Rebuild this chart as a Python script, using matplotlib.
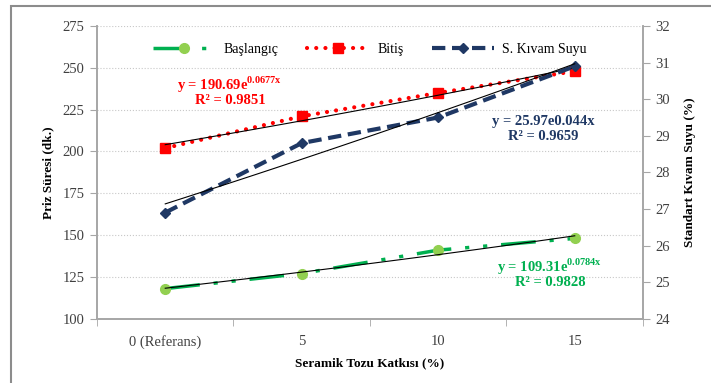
import matplotlib.pyplot as plt
import numpy as np
from matplotlib.patches import Rectangle

plt.rcParams['font.family'] = ['Liberation Serif', 'DejaVu Serif']
plt.rcParams['mathtext.fontset'] = 'custom'
plt.rcParams['mathtext.rm'] = 'Liberation Serif:bold'
plt.rcParams['mathtext.bf'] = 'Liberation Serif:bold'

categories = ['0 (Referans)', '5', '10', '15']
baslangic = [118, 127, 141, 148]
bitis = [202, 221, 235, 248]
kivam = [26.9, 28.8, 29.5, 30.9]

# exponential trend coefficients (a, b) for y = a*e^(b*x), x = 1..4
fit_baslangic = (109.31, 0.0784)
fit_bitis = (190.69, 0.0677)
fit_kivam = (25.97, 0.044)

green = '#00B050'
lightgreen = '#92D050'
red = '#FF0000'
navy = '#1F3864'
gray = '#A6A6A6'

fig = plt.figure(figsize=(7.11, 3.83), dpi=100)
fig.add_artist(Rectangle((11 / 711, -0.1), 1.0, 1 - 6 / 383 + 0.1, transform=fig.transFigure,
                         fill=False, edgecolor='#8C8C8C', linewidth=1.5))

ax = fig.add_axes([97 / 711, 1 - 318.7 / 383, (643 - 97) / 711, (318.7 - 26) / 383])
ax2 = ax.twinx()

x = np.arange(len(categories))
xf = np.linspace(0, 3, 50)

ax.plot(xf, fit_baslangic[0] * np.exp(fit_baslangic[1] * (xf + 1)), color='black', lw=0.8, zorder=4)
ax.plot(xf, fit_bitis[0] * np.exp(fit_bitis[1] * (xf + 1)), color='black', lw=0.8, zorder=4)
ax2.plot(xf, fit_kivam[0] * np.exp(fit_kivam[1] * (xf + 1)), color='black', lw=0.8, zorder=4)

l1, = ax.plot(x, baslangic, color=green, lw=2.5, dashes=(10, 4, 1.2, 4, 1.2, 4),
              marker='o', ms=7, mfc=lightgreen, mec=lightgreen, label='Başlangıç', zorder=3)
l2, = ax.plot(x, bitis, color=red, lw=3, dashes=(0.01, 2.2), dash_capstyle='round',
              marker='s', ms=7, mfc=red, mec=red, label='Bitiş', zorder=3)
l3, = ax2.plot(x, kivam, color=navy, lw=3, dashes=(3.2, 1.6),
               marker='D', ms=5, mfc=navy, mec=navy, label='S. Kıvam Suyu', zorder=3)

ax.set_xlim(-0.5, 3.5)
ax.set_ylim(100, 275)
ax.set_yticks(np.arange(100, 276, 25))
ax2.set_ylim(24, 32)
ax2.set_yticks(np.arange(24, 33, 1))

ax.set_xticks(x)
ax.set_xticklabels(categories)
ax.set_xticks(np.arange(-0.5, 3.6, 1), minor=True)
ax.tick_params(axis='x', which='major', length=0, pad=12, labelsize=10.5, colors='#404040')
ax.tick_params(axis='x', which='minor', length=5, color=gray, direction='out')
ax.tick_params(axis='x', which='minor', labelbottom=False)
ax.tick_params(axis='y', length=5, color=gray, labelsize=10.5, labelcolor='#404040', pad=4)
ax2.tick_params(axis='y', length=5, color=gray, labelsize=10.5, labelcolor='#404040', pad=4)

ax.grid(axis='y', color='#C8C8C8', linestyle=':', linewidth=0.8)
for a in (ax, ax2):
    a.spines['top'].set_visible(False)
    for s in ('left', 'right', 'bottom'):
        a.spines[s].set_color(gray)
        a.spines[s].set_linewidth(1.2)

ax.set_ylabel('Priz Süresi (dk.)', fontsize=9.5, fontweight='bold', labelpad=6)
ax2.set_ylabel('Standart Kıvam Suyu (%)', fontsize=9.5, fontweight='bold', labelpad=10)
ax.set_xlabel('Seramik Tozu Katkısı (%)', fontsize=9.5, fontweight='bold', labelpad=6)

ax.legend(handles=[l1, l2, l3], loc='upper center', bbox_to_anchor=(0.5, 0.985), ncol=3,
          frameon=False, fontsize=10, handlelength=4.5, columnspacing=2.0, handletextpad=0.6)


def px(xp, yp):
    return xp / 711, 1 - yp / 383


fig.text(*px(230, 85), 'y = 190.69e$^{\\mathbf{0.0677x}}$', color=red, fontsize=10.5,
         fontweight='bold', ha='center', va='center')
fig.text(*px(230, 101), 'R² = 0.9851', color=red, fontsize=10.5, fontweight='bold',
         ha='center', va='center')
fig.text(*px(543, 121), 'y = 25.97e0.044x', color=navy, fontsize=10.5, fontweight='bold',
         ha='center', va='center')
fig.text(*px(543, 137), 'R² = 0.9659', color=navy, fontsize=10.5, fontweight='bold',
         ha='center', va='center')
fig.text(*px(550, 267), 'y = 109.31e$^{\\mathbf{0.0784x}}$', color=green, fontsize=10.5,
         fontweight='bold', ha='center', va='center')
fig.text(*px(550, 283), 'R² = 0.9828', color=green, fontsize=10.5, fontweight='bold',
         ha='center', va='center')

fig.savefig('out.png', dpi=100)
